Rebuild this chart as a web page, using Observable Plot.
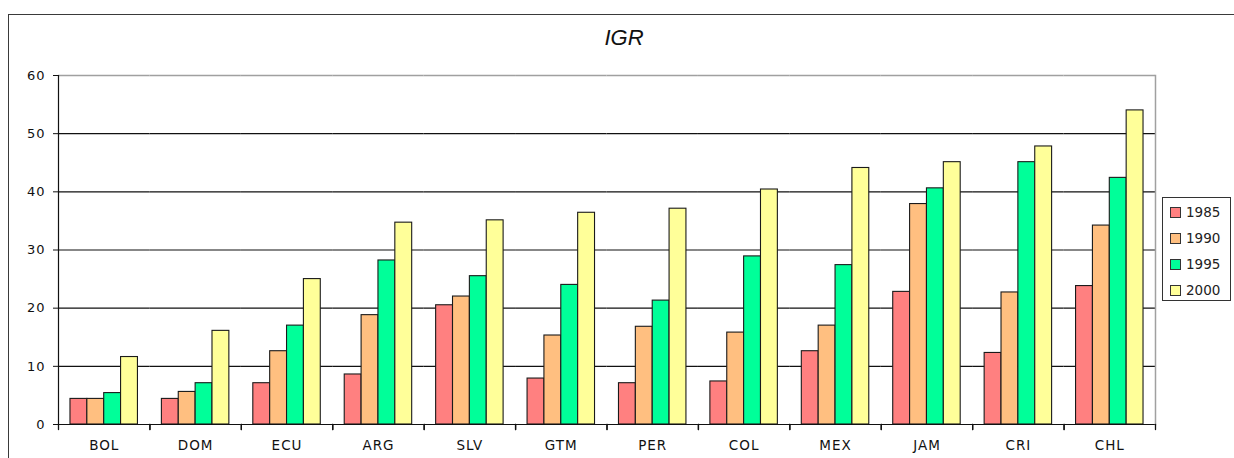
<!DOCTYPE html>
<html>
<head>
<meta charset="utf-8">
<script src="https://cdn.jsdelivr.net/npm/d3@7"></script>
<script src="https://cdn.jsdelivr.net/npm/@observablehq/plot@0.6"></script>
<style>
  html, body { margin: 0; padding: 0; background: #fff; overflow: hidden; }
  body { width: 1234px; height: 458px; position: relative; font-family: "DejaVu Sans", sans-serif; }
  #chart { position: absolute; left: 0; top: 0; }
  #border { position: absolute; left: 8px; top: 14px; width: 1300px; height: 600px; border-top: 1.5px solid #3a3a3a; border-left: 1.5px solid #3a3a3a; pointer-events: none; }
  #title { position: absolute; left: 0; width: 1248px; top: 27px; text-align: center; font: italic 22px/22px "Liberation Sans", Arial, sans-serif; color: #111; }
  #legend { position: absolute; left: 1162px; top: 197px; width: 69px; height: 104px; border: 1.5px solid #333; box-sizing: border-box; background: #fff; }
  .item { position: absolute; left: 7px; height: 14px; display: flex; align-items: center; font-size: 13.5px; color: #222; }
  .sw { width: 9px; height: 9px; border: 1px solid #333; margin-right: 5px; }
  svg text { fill: #111; }
  g[aria-label="fx-axis tick label"] text { letter-spacing: 1px; }
  g[aria-label="y-axis tick label"] text { letter-spacing: 1px; }
</style>
</head>
<body>
<div id="chart"></div>
<div id="border"></div>
<div id="title"></div>
<div id="legend"></div>
<script>
const title = "IGR";
const countries = ["BOL","DOM","ECU","ARG","SLV","GTM","PER","COL","MEX","JAM","CRI","CHL"];
const years = ["1985","1990","1995","2000"];
const v1985 = [4.4, 4.4, 7.1, 8.6, 20.5, 7.9, 7.1, 7.4, 12.6, 22.8, 12.3, 23.8];
const v1990 = [4.4, 5.6, 12.6, 18.8, 22.0, 15.3, 16.8, 15.8, 17.0, 37.9, 22.7, 34.2];
const v1995 = [5.4, 7.1, 17.0, 28.2, 25.5, 24.0, 21.3, 28.9, 27.4, 40.6, 45.1, 42.4];
const v2000 = [11.6, 16.1, 25.0, 34.7, 35.1, 36.4, 37.1, 40.4, 44.1, 45.1, 47.8, 54.0];
const colors = ["#ff8080", "#ffbf80", "#00ff99", "#ffff99"];
const yTicks = [0, 10, 20, 30, 40, 50, 60];
const gridLines = [10, 20, 30, 40, 50];

const series = [v1985, v1990, v1995, v2000];
const data = [];
countries.forEach((c, i) => years.forEach((y, j) => data.push({country: c, year: y, value: series[j][i]})));

document.getElementById("title").textContent = title;

const legend = document.getElementById("legend");
years.forEach((y, j) => {
  const it = document.createElement("div");
  it.className = "item";
  it.style.top = (7 + j * 26) + "px";
  const sw = document.createElement("span");
  sw.className = "sw";
  sw.style.background = colors[j];
  const t = document.createElement("span");
  t.textContent = y;
  it.appendChild(sw); it.appendChild(t);
  legend.appendChild(it);
});

const tickShape = {draw(context, l) { context.moveTo(0, 0); context.lineTo(0, -l); }};

const chart = Plot.plot({
  width: 1234,
  height: 458,
  marginLeft: 58,
  marginRight: 79,
  marginTop: 75,
  marginBottom: 34,
  style: {fontFamily: "DejaVu Sans, sans-serif", fontSize: "12px", background: "transparent"},
  fx: {domain: countries, padding: 0, round: false},
  x: {domain: years, paddingInner: 0, paddingOuter: 0.71, round: false, axis: null},
  y: {domain: [0, 60]},
  color: {domain: years, range: colors},
  marks: [
    Plot.ruleY(gridLines, {stroke: "#111", strokeWidth: 1.1}),
    Plot.ruleY([60], {stroke: "#a0a0a0", strokeWidth: 1.5}),
    Plot.barY(data, {fx: "country", x: "year", y: "value", fill: "year", stroke: "#1a1a1a", strokeWidth: 1.1}),
    Plot.ruleY([0], {stroke: "#111", strokeWidth: 1.2}),
    Plot.frame({anchor: "left", facetAnchor: "left", stroke: "#111", strokeWidth: 1.2}),
    Plot.frame({anchor: "right", facetAnchor: "right", stroke: "#a0a0a0", strokeWidth: 1.5}),
    Plot.vector([0], {frameAnchor: "bottom-left", length: 5, rotate: 180, anchor: "start", shape: tickShape, stroke: "#111", strokeWidth: 1.3}),
    Plot.vector([0], {frameAnchor: "bottom-right", length: 5, rotate: 180, anchor: "start", shape: tickShape, stroke: "#111", strokeWidth: 1.3}),
    Plot.axisY({ticks: yTicks, tickSize: 5, tickPadding: 8, fontSize: 13, label: null, stroke: "#111"}),
    Plot.axisFx({anchor: "bottom", tickSize: 0, tickPadding: 16, fontSize: 13.5, label: null})
  ]
});
document.getElementById("chart").appendChild(chart);
</script>
</body>
</html>
